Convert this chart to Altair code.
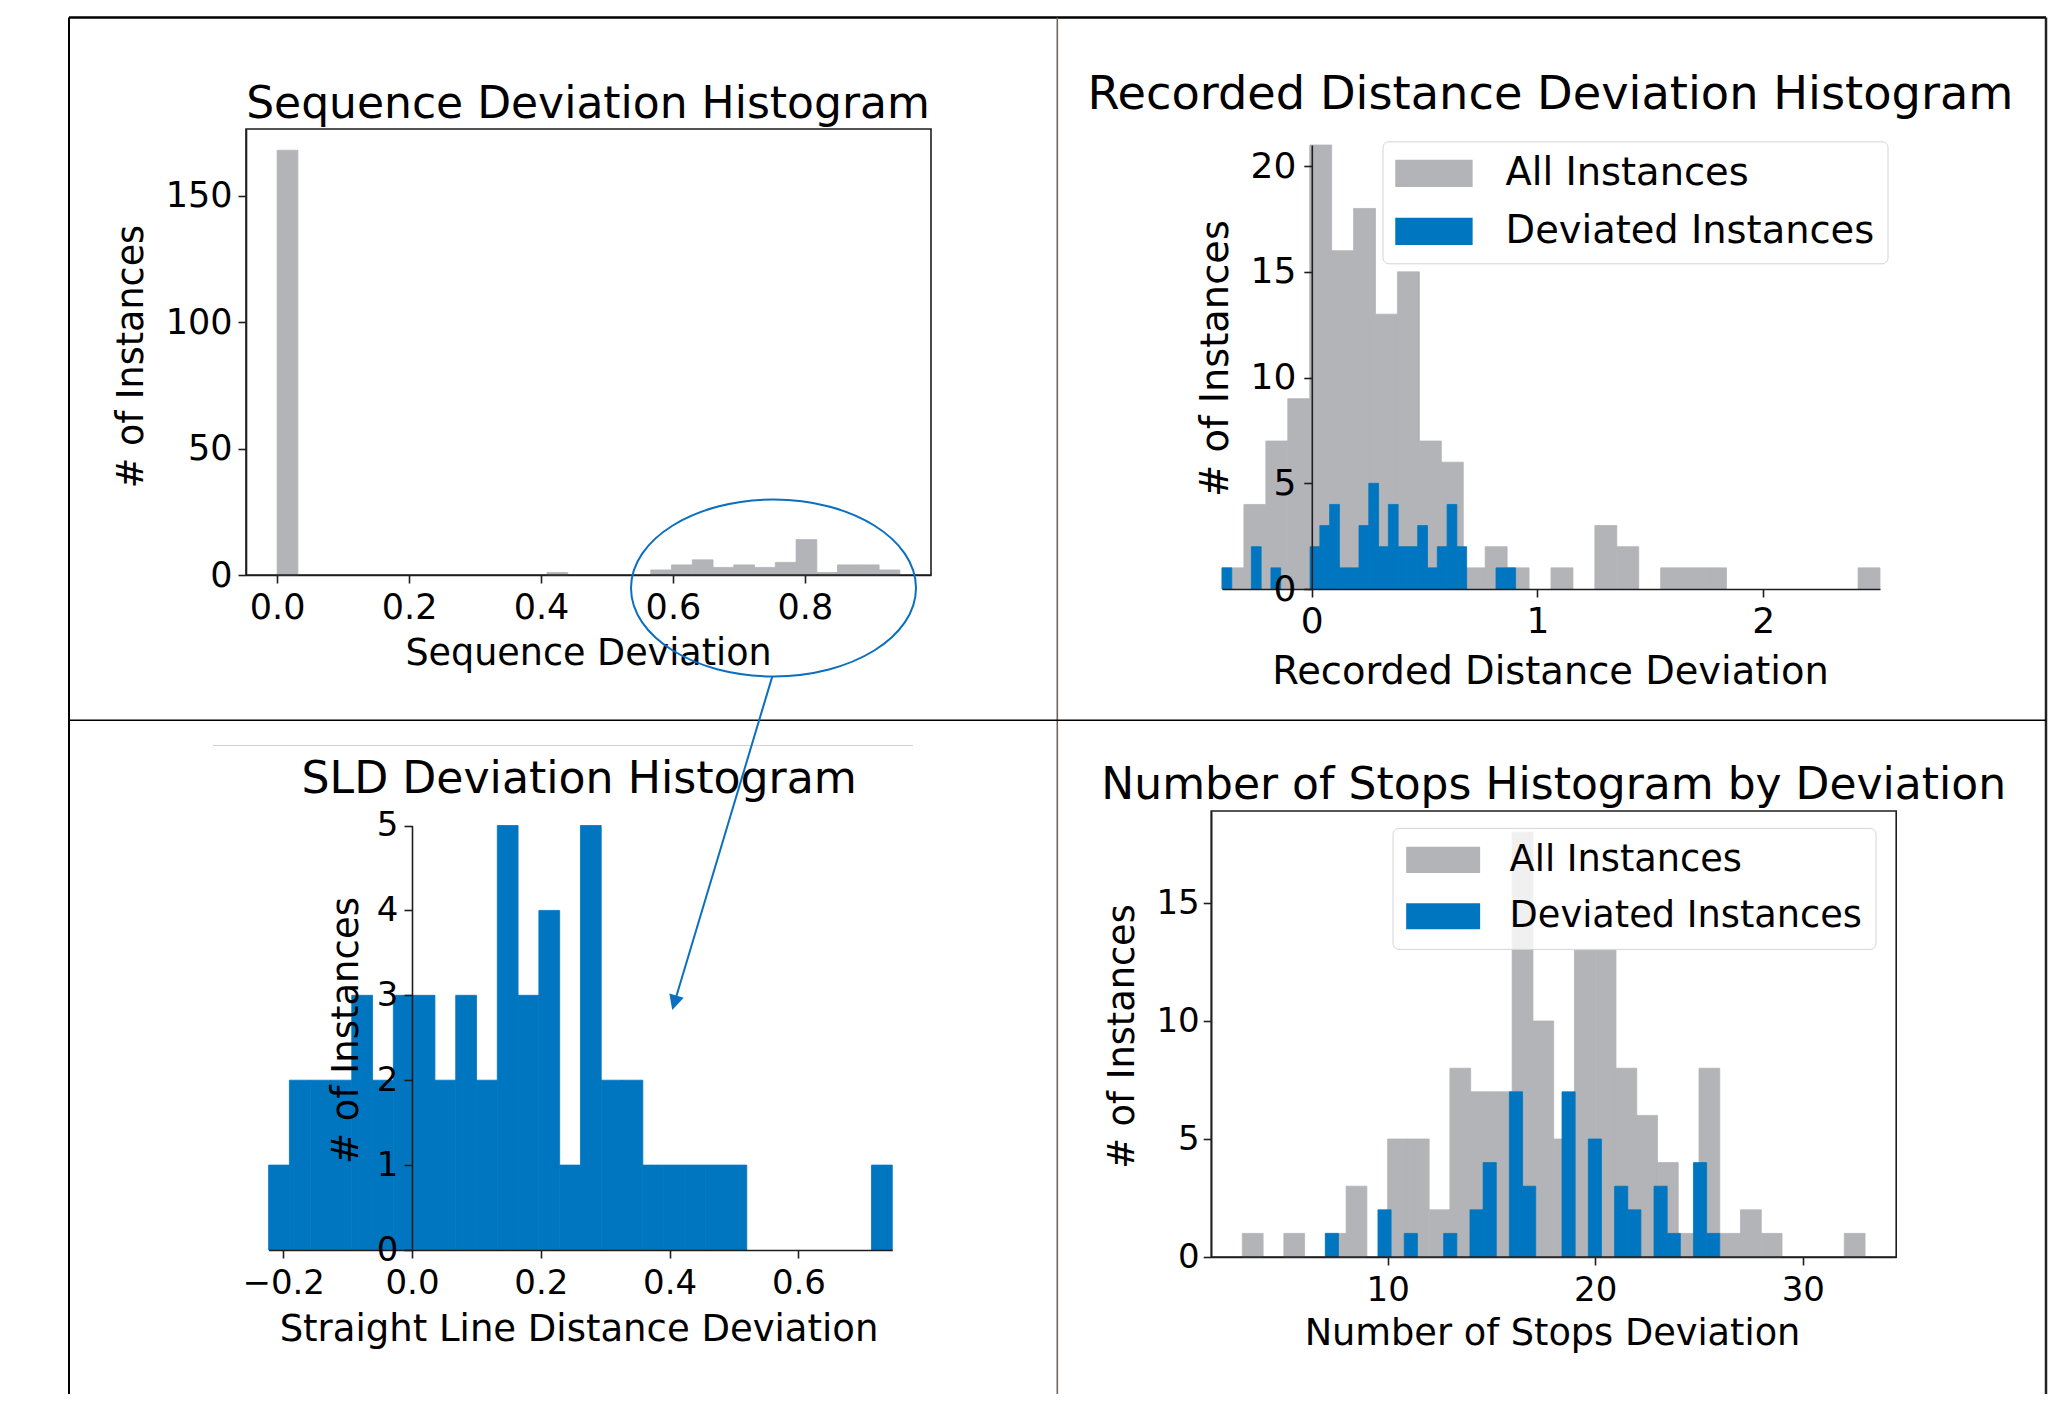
import altair as alt
import pandas as pd

W, H = 2053, 1386
FONT = "DejaVu Sans"
GRAY = "#b3b4b8"
BLUE = "#0176c0"
NOTE = "#0b6fc0"
INK = "#1e1e1e"

# ---------------- data (bin ranges + counts) ----------------
seq_range = [0.0, 0.944]
seq_counts = [168, 0, 0, 0, 0, 0, 0, 0, 0, 0, 0, 0, 0, 1, 0, 0, 0, 0,
              2, 4, 6, 3, 4, 3, 5, 14, 1, 4, 4, 2]

rd_all_range = [-0.398, 2.518]
rd_all_counts = [1, 4, 7, 9, 21, 16, 18, 13, 15, 7, 6, 1, 2, 1, 0, 1, 0, 3, 2, 0,
                 1, 1, 1, 0, 0, 0, 0, 0, 0, 1]
rd_dev_range = [-0.398, 0.903]
rd_dev_counts = [1, 0, 0, 2, 0, 1, 0, 0, 0, 2, 3, 4, 1, 1, 3, 5, 2, 4, 2, 2,
                 3, 1, 2, 4, 2, 0, 0, 0, 1, 1]

sld_range = [-0.2227, 0.7458]
sld_counts = [1, 2, 2, 2, 3, 2, 3, 3, 2, 3, 2, 5, 3, 4, 1, 5, 2, 2, 1, 1,
              1, 1, 1, 0, 0, 0, 0, 0, 0, 1]

ns_all_range = [3, 33]
ns_all_counts = [1, 0, 1, 0, 1, 3, 0, 5, 5, 2, 8, 7, 7, 18, 10, 5, 13, 13, 8, 6,
                 4, 1, 8, 1, 2, 1, 0, 0, 0, 1]
ns_dev_range = [7, 26]
ns_dev_counts = [1, 0, 0, 0, 2, 0, 1, 0, 0, 1, 0, 2, 4, 0, 7, 3, 0, 0, 7, 0,
                 5, 0, 3, 2, 0, 3, 1, 0, 4, 1]

series_names = ["All Instances", "Deviated Instances"]
panel_titles = ["Sequence Deviation Histogram", "Recorded Distance Deviation Histogram",
                "SLD Deviation Histogram", "Number of Stops Histogram by Deviation"]
x_titles = ["Sequence Deviation", "Recorded Distance Deviation",
            "Straight Line Distance Deviation", "Number of Stops Deviation"]
y_title = "# of Instances"

seq_ticks = [0.0, 0.2, 0.4, 0.6, 0.8]
seq_yticks = [0, 50, 100, 150]
rd_ticks = [0, 1, 2]
rd_yticks = [0, 5, 10, 15, 20]
sld_ticks = [-0.2, 0.0, 0.2, 0.4, 0.6]
sld_yticks = [0, 1, 2, 3, 4, 5]
ns_ticks = [10, 20, 30]
ns_yticks = [0, 5, 10, 15]

RECT_SYM = "M-2.015,-0.71H2.015V0.71H-2.015Z"
ELLIPSE = ("M-1,0C-1,-0.3425,-0.552,-0.6204,0,-0.6204C0.552,-0.6204,1,-0.3425,1,0"
           "C1,0.3425,0.552,0.6204,0,0.6204C-0.552,0.6204,-1,0.3425,-1,0Z")
HEAD = "M0,-1L1,1L-1,1Z"


def hist_frame(rng, counts, series):
    lo, hi = rng
    step = (hi - lo) / len(counts)
    return pd.DataFrame([
        {"x0": lo + i * step, "x1": lo + (i + 1) * step, "n": c, "series": series}
        for i, c in enumerate(counts) if c > 0])


def make_panel(df, g, legend=None, single_color=None, boxed=False, z=0):
    xs = alt.Scale(domain=g["xdom"], range=g["xrng"], nice=False, zero=False)
    ys = alt.Scale(domain=g["ydom"], range=g["yrng"], nice=False, zero=False)
    common = dict(labelFont=FONT, labelFontSize=g["tick_fs"], labelColor="#000",
                  titleFont=FONT, titleFontSize=g["lab_fs"], titleFontWeight="normal",
                  titleColor="#000", tickColor=INK, tickWidth=1.6, tickSize=8,
                  domainColor=INK, domainWidth=1.6, grid=False, labelFlush=False,
                  labelOverlap=False, zindex=z, titleAlign="center",
                  titleBaseline="alphabetic")
    xaxis = alt.Axis(orient="bottom", offset=g["x_axis_y"] - H, values=g["xvals"],
                     format=g["xfmt"], title=g["xtitle"], titleX=g["xtitle_x"],
                     titleY=g["xtitle_dy"], titleAngle=0, labelPadding=g["xpad"], **common)
    yaxis = alt.Axis(orient="left", offset=-g["y_axis_x"], values=g["yvals"], format="d",
                     title=y_title, titleX=g["ytitle_dx"], titleY=g["ytitle_y"],
                     titleAngle=270, labelPadding=g["ypad"], **common)
    enc = dict(x=alt.X("x0:Q", scale=xs, axis=xaxis), x2="x1",
               y=alt.Y("n:Q", scale=ys, axis=yaxis), y2=alt.datum(0))
    if legend is not None:
        cscale = alt.Scale(domain=series_names, range=[GRAY, BLUE])
        bars = alt.Chart(df).mark_rect(strokeWidth=0.8, opacity=1).encode(
            color=alt.Color("series:N", title=None, scale=cscale, legend=legend),
            stroke=alt.Stroke("series:N", scale=cscale, legend=None), **enc)
    else:
        bars = alt.Chart(df).mark_rect(strokeWidth=0.8, color=single_color,
                                       stroke=single_color, opacity=1).encode(**enc)
    if not boxed:
        return bars
    box_df = pd.DataFrame([{"bx0": g["xdom"][0], "bx1": g["xdom"][1],
                            "by0": g["ydom"][0], "by1": g["ydom"][1]}])
    box = alt.Chart(box_df).mark_rect(fillOpacity=0, stroke=INK, strokeWidth=1.6).encode(
        x=alt.X("bx0:Q", scale=xs, axis=xaxis), x2="bx1",
        y=alt.Y("by0:Q", scale=ys, axis=yaxis), y2="by1")
    return alt.layer(bars, box)


def make_legend(x, y, fs, half_w, lab_gap, pad, row_pad):
    s = fs  # layout size of the symbol slot, equal to the label height
    return alt.Legend(orient="none", legendX=x, legendY=y, direction="vertical",
                      labelFont=FONT, labelFontSize=fs, labelColor="#000", labelLimit=1000,
                      symbolType=RECT_SYM, symbolSize=s * s, symbolStrokeWidth=0,
                      symbolOpacity=1, symbolOffset=half_w - s / 2,
                      labelOffset=half_w + lab_gap - s / 2, padding=pad, rowPadding=row_pad,
                      fillColor="rgba(255,255,255,0.8)", strokeColor="#d4d4d4",
                      cornerRadius=6)


# ---------------- panels ----------------
g1 = dict(xdom=[-0.0472, 0.9912], xrng=[238, 923], ydom=[0, 176.4], yrng=[567, 121],
          x_axis_y=567, y_axis_x=238, xvals=seq_ticks, xfmt=".1f", yvals=seq_yticks,
          xtitle=x_titles[0], xtitle_x=580, xtitle_dy=89, ytitle_dx=-104, ytitle_y=348,
          tick_fs=35, lab_fs=36.5, xpad=7, ypad=6)
g2 = dict(xdom=rd_all_range, xrng=[1214, 1872], ydom=[0, 21], yrng=[581, 137],
          x_axis_y=581, y_axis_x=1303.8, xvals=rd_ticks, xfmt="d", yvals=rd_yticks,
          xtitle=x_titles[1], xtitle_x=1542, xtitle_dy=94.5, ytitle_dx=-84, ytitle_y=350,
          tick_fs=36, lab_fs=38.4, xpad=7, ypad=8)
g3 = dict(xdom=sld_range, xrng=[260.6, 884.3], ydom=[0, 5], yrng=[1242, 817.5],
          x_axis_y=1242, y_axis_x=404.0, xvals=sld_ticks, xfmt=".1f", yvals=sld_yticks,
          xtitle=x_titles[2], xtitle_x=570.5, xtitle_dy=90, ytitle_dx=-55, ytitle_y=1022,
          tick_fs=34, lab_fs=37, xpad=8, ypad=6)
g4 = dict(xdom=[1.5, 34.5], xrng=[1203.2, 1888.2], ydom=[0, 18.9], yrng=[1249, 803],
          x_axis_y=1249, y_axis_x=1203.2, xvals=ns_ticks, xfmt="d", yvals=ns_yticks,
          xtitle=x_titles[3], xtitle_x=1544, xtitle_dy=87.5, ytitle_dx=-78, ytitle_y=1028,
          tick_fs=34, lab_fs=36.7, xpad=8.5, ypad=4)

p1 = make_panel(hist_frame(seq_range, seq_counts, series_names[0]), g1,
                single_color=GRAY, boxed=True)
p2_df = pd.concat([hist_frame(rd_all_range, rd_all_counts, series_names[0]),
                   hist_frame(rd_dev_range, rd_dev_counts, series_names[1])], ignore_index=True)
p2 = make_panel(p2_df, g2, legend=make_legend(1374.5, 133.3, 38.4, 38.65, 32.7, 12.5, 19.1), z=1)
p3 = make_panel(hist_frame(sld_range, sld_counts, series_names[1]), g3,
                single_color=BLUE, z=1)
p4_df = pd.concat([hist_frame(ns_all_range, ns_all_counts, series_names[0]),
                   hist_frame(ns_dev_range, ns_dev_counts, series_names[1])], ignore_index=True)
p4 = make_panel(p4_df, g4, legend=make_legend(1384.5, 819.9, 36.7, 37, 29.3, 13.5, 18.3),
                boxed=True)

# ---------------- page furniture (table borders, titles, annotation) ----------------
px = dict(scale=None, axis=None)
borders = pd.DataFrame([
    {"x": 61, "x2": 2038, "y": 9.5, "y2": 9.5, "c": "#000000", "w": 2.5},
    {"x": 61, "x2": 61, "y": 9.5, "y2": H, "c": "#000000", "w": 2},
    {"x": 2038, "x2": 2038, "y": 9.5, "y2": H, "c": "#222222", "w": 2.5},
    {"x": 1049.3, "x2": 1049.3, "y": 9.5, "y2": H, "c": "#6f6763", "w": 1.6},
    {"x": 61, "x2": 2038, "y": 712.3, "y2": 712.3, "c": "#000000", "w": 1.6},
    {"x": 205, "x2": 905, "y": 737.5, "y2": 737.5, "c": "#d2d2d2", "w": 1},
])
border_layer = alt.Chart(borders).mark_rule().encode(
    x=alt.X("x:Q", **px), x2="x2", y=alt.Y("y:Q", **px), y2="y2",
    color=alt.Color("c:N", scale=None), strokeWidth=alt.StrokeWidth("w:Q", scale=None))

titles = pd.DataFrame([
    {"x": 580, "y": 110, "t": panel_titles[0], "fs": 44},
    {"x": 1542.4, "y": 101.3, "t": panel_titles[1], "fs": 46.3},
    {"x": 571.2, "y": 784.5, "t": panel_titles[2], "fs": 44.2},
    {"x": 1545.7, "y": 791.1, "t": panel_titles[3], "fs": 44},
])
title_layer = alt.Chart(titles).mark_text(font=FONT, align="center", baseline="alphabetic",
                                          color="#000").encode(
    x=alt.X("x:Q", **px), y=alt.Y("y:Q", **px), text="t:N",
    size=alt.Size("fs:Q", scale=None))

ellipse = alt.Chart(pd.DataFrame([{"x": 765.5, "y": 580}])).mark_point(
    shape=ELLIPSE, size=285 * 285, filled=False, stroke=NOTE, strokeWidth=2, opacity=1).encode(
    x=alt.X("x:Q", **px), y=alt.Y("y:Q", **px))
arrow_line = alt.Chart(pd.DataFrame([{"x": 764.3, "y": 668.4, "x2": 666.4, "y2": 994.8}])).mark_rule(
    color=NOTE, strokeWidth=2).encode(
    x=alt.X("x:Q", **px), x2="x2", y=alt.Y("y:Q", **px), y2="y2")
arrow_head = alt.Chart(pd.DataFrame([{"x": 666.4, "y": 994.8}])).mark_point(
    shape=HEAD, size=225, filled=True, fill=NOTE, strokeWidth=0, opacity=1, angle=196.6).encode(
    x=alt.X("x:Q", **px), y=alt.Y("y:Q", **px))

chart = alt.layer(border_layer, p1, p2, p3, p4, title_layer, ellipse, arrow_line, arrow_head
                  ).resolve_scale(x="independent", y="independent", color="independent"
                  ).properties(width=W, height=H, autosize=alt.AutoSizeParams(type="none"),
                               padding=0
                  ).configure(font=FONT, view=alt.ViewConfig(stroke="transparent"))

chart.save("out.html", embed_options={"renderer": "svg", "actions": False})
